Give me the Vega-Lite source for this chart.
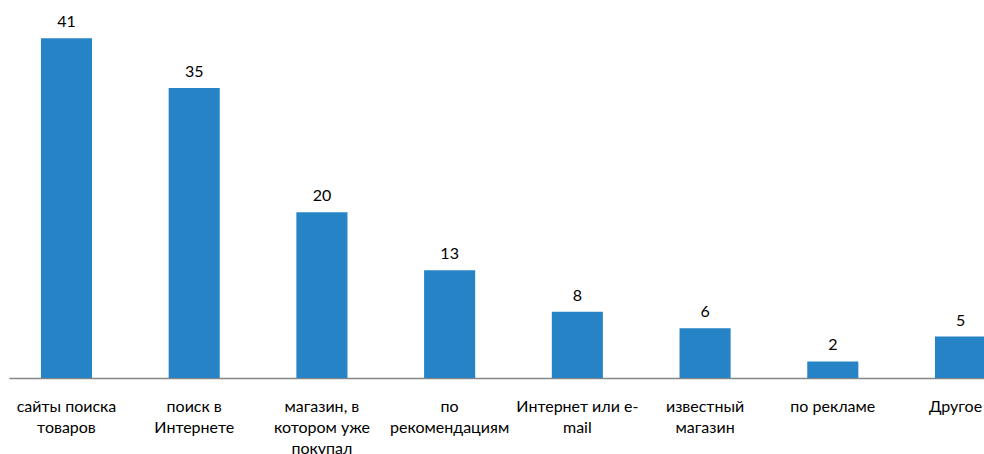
{
  "$schema": "https://vega.github.io/schema/vega-lite/v6.json",
  "autosize": "none",
  "padding": {"left": 9, "top": 5, "right": 0, "bottom": 76},
  "width": 975,
  "height": 373,
  "background": "white",
  "config": {"view": {"stroke": null}, "font": "Lato"},
  "data": {
    "values": [
      {"category": "сайты поиска|товаров", "value": 41},
      {"category": "поиск в|Интернете", "value": 35},
      {"category": "магазин, в|котором уже|покупал", "value": 20},
      {"category": "по|рекомендациям", "value": 13},
      {"category": "Интернет или  e-|mail", "value": 8},
      {"category": "известный|магазин", "value": 6},
      {"category": "по рекламе", "value": 2},
      {"category": "Другое", "value": 5}
    ]
  },
  "encoding": {
    "x": {
      "field": "category",
      "type": "nominal",
      "sort": null,
      "scale": {"range": [0, 1009], "paddingInner": 0.6, "paddingOuter": 0.25},
      "axis": {
        "title": null,
        "labelAngle": 0,
        "labelExpr": "split(datum.label, '|')",
        "labelFont": "Lato",
        "labelFontSize": 16,
        "labelColor": "#000000",
        "labelLineHeight": 21,
        "labelPadding": 33,
        "labelBaseline": "alphabetic",
        "labelOffset": {"condition": {"test": "datum.value == 'Другое'", "value": -5}, "value": 0},
        "ticks": false,
        "domainColor": "#868686",
        "domainWidth": 1.5,
        "labelLimit": 200
      }
    },
    "y": {
      "field": "value",
      "type": "quantitative",
      "scale": {"domain": [0, 45], "nice": false},
      "axis": null
    }
  },
  "layer": [
    {"mark": {"type": "bar", "color": "#2683C6"}},
    {
      "mark": {"type": "text", "dy": -11, "baseline": "alphabetic", "fontSize": 16, "font": "Lato", "color": "#000000"},
      "encoding": {"text": {"field": "value", "type": "quantitative"}}
    }
  ]
}
